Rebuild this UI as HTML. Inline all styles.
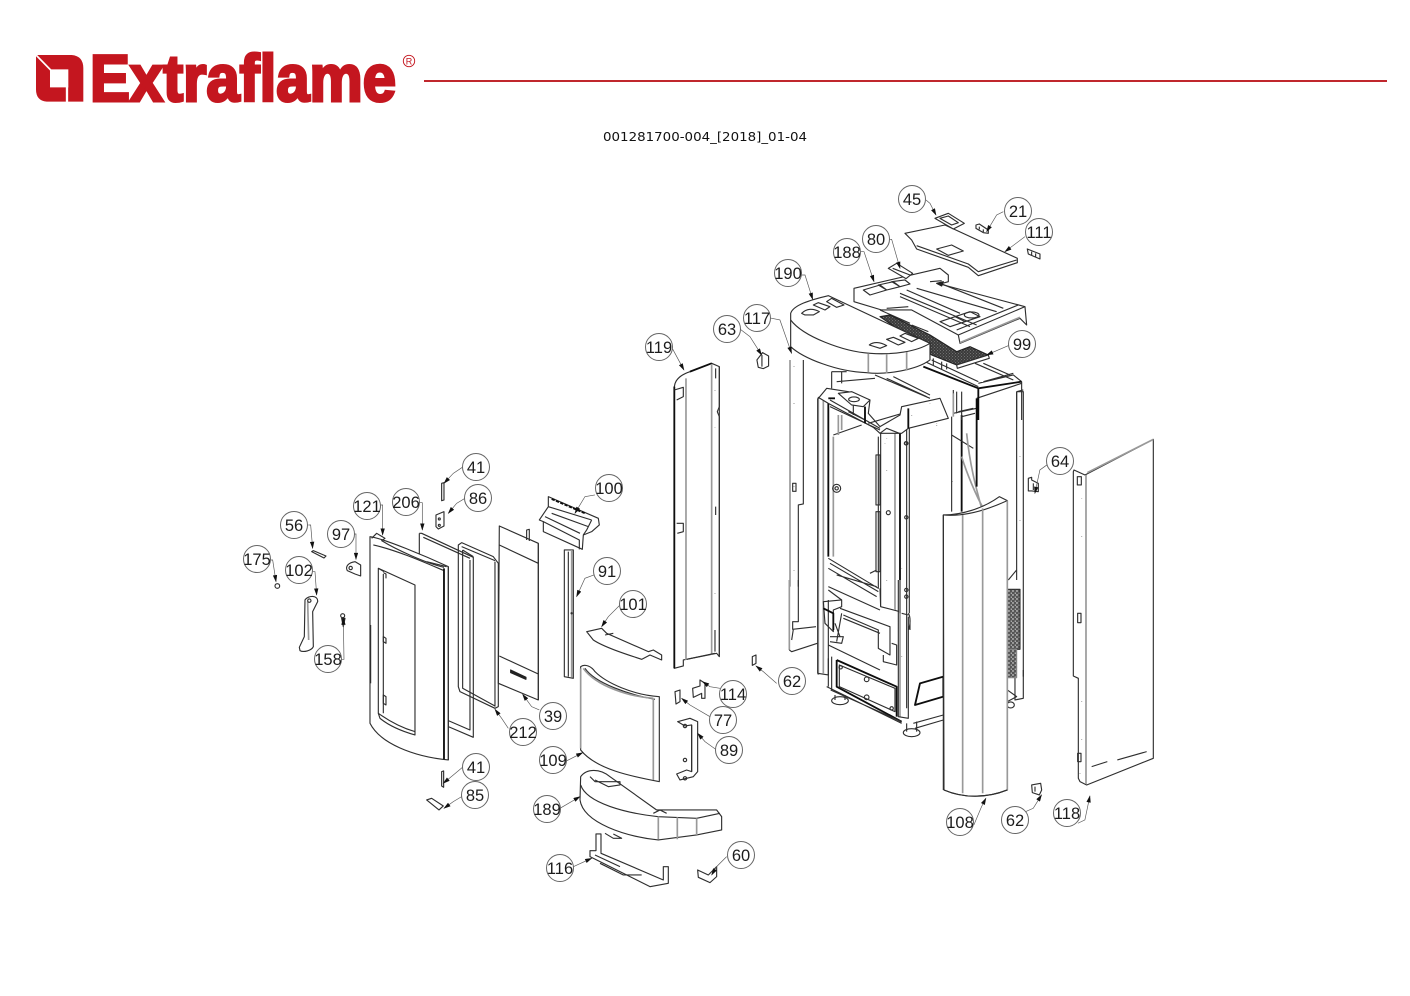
<!DOCTYPE html>
<html><head><meta charset="utf-8"><title>Extraflame 001281700-004</title>
<style>
html,body{margin:0;padding:0;background:#fff}
svg{display:block}
.p path,.p ellipse,.p circle,.p rect{fill:none;stroke:#2e2e2e;stroke-width:3.4;stroke-linejoin:round}
.p .w{fill:#fff}
.p .g{stroke:#999;stroke-width:5}
.p .k{stroke:#0d0d0d;stroke-width:5.5}
.p .d{fill:#222;stroke:#222}
.l path{fill:none;stroke:#555;stroke-width:2;marker-end:url(#a)}
.c circle{fill:#fff;stroke:#666;stroke-width:1}
.c text{font:16.5px "Liberation Sans",sans-serif;fill:#1c1c1c;text-anchor:middle}
</style></head>
<body>
<svg width="1410" height="996" viewBox="0 0 1410 996" xmlns="http://www.w3.org/2000/svg">
<defs>
<marker id="a" viewBox="0 0 10 6" refX="9" refY="3" orient="auto" markerUnits="userSpaceOnUse" markerWidth="28" markerHeight="13"><path d="M0,0L10,3L0,6z" fill="#111" stroke="none"/></marker>
<pattern id="m" width="9" height="9" patternUnits="userSpaceOnUse"><rect width="9" height="9" fill="#3a3a3a"/><circle cx="2" cy="2" r="1.3" fill="#aaa"/><circle cx="6.5" cy="6" r="1.3" fill="#999"/></pattern>
<pattern id="b" width="12" height="12" patternUnits="userSpaceOnUse"><rect width="12" height="12" fill="#555"/><rect x="2" y="2" width="4" height="3" fill="#ddd"/><rect x="7" y="7" width="4" height="4" fill="#eee"/></pattern>
</defs>
<rect width="1410" height="996" fill="#fff"/>

<!-- logo -->
<g transform="translate(0,30) scale(.3333)">
<path fill="#c4161f" d="M108,75H215Q250,78 250,115V215H140Q108,212 108,178Z"/>
<path fill="#fff" d="M150,118H205V172H150Z"/>
<path stroke="#fff" stroke-width="5" fill="none" d="M108,75L152,120"/>
<path stroke="#fff" stroke-width="7" fill="none" d="M201,170V216"/>
</g>
<text x="90" y="101" font-family="Liberation Sans,sans-serif" font-weight="700" font-size="66" fill="#c4161f" stroke="#c4161f" stroke-width="3" textLength="306" lengthAdjust="spacingAndGlyphs">Extraflame</text>
<circle cx="409" cy="61" r="5.7" fill="none" stroke="#c4161f" stroke-width=".9"/>
<text x="409" y="64.5" font-family="Liberation Sans,sans-serif" font-size="9" fill="#c4161f" text-anchor="middle">R</text>
<rect x="424" y="80" width="963" height="2" fill="#c0272d"/>
<text x="603" y="141" font-family="DejaVu Sans,sans-serif" font-size="12.5" fill="#111" textLength="204" lengthAdjust="spacingAndGlyphs">001281700-004_[2018]_01-04</text>

<!-- stove body mid (z3) -->
<g class="p" transform="translate(770,380) scale(.3333)">
<path class="g" d="M60,-60V620"/><path d="M100,-60V372L85,375V620"/>
<path d="M72,70v1M72,320v1M72,570v1" stroke-width="6"/>
<rect x="68" y="310" width="10" height="24"/>
<path class="g" d="M145,55V885M160,55V880" />
<path d="M143,55V880L175,885V660"/>
<path class="k" d="M175,60V530"/><path class="g" d="M190,170V530"/>
<path d="M175,535L325,625V170M180,550L325,635M175,565L320,650M200,585L320,620M300,580L320,570M330,625L332,680M175,620L330,690"/>
<path d="M318,225H330V375H318ZM318,395H330V575H318Z" stroke-width="5"/>
<circle cx="200" cy="325" r="12" stroke-width="7"/><circle cx="200" cy="325" r="5"/>
<path class="w" d="M332,160L390,145V695L332,680Z"/><path class="g" d="M375,150V690"/><path class="k" d="M390,145V700"/>
<circle cx="355" cy="398" r="6"/>
<path d="M410,130V985M418,145V700"/><circle cx="409" cy="190" r="5"/><circle cx="409" cy="412" r="5"/><circle cx="409" cy="630" r="5"/><circle cx="409" cy="650" r="5"/>
<path d="M350,175v1M350,270v1M350,600v1M395,565v1M395,830v1M547,305v1M500,130v1M430,140v1" stroke-width="6"/>
<path class="k" d="M575,105V395"/><path d="M545,110V395M545,165L610,205"/>
<path d="M550,30V100L620,85M565,95L610,85"/>
<path class="g" d="M575,230C590,280 620,350 640,385M590,160C600,260 620,330 635,385"/>
<path class="k" d="M620,55V320"/><path d="M620,55L755,10"/>
<path d="M740,35H760V955L735,960V640M740,35V600"/>
<path d="M750,230v1M750,420v1" stroke-width="6"/>
<path d="M715,600L740,570"/>
<rect x="712" y="628" width="38" height="180" style="fill:url(#b)"/>
<rect x="712" y="808" width="28" height="85" style="fill:url(#b);stroke:#888"/>
<path d="M712,930L740,950L712,965M760,870V890" />
<ellipse cx="722" cy="975" rx="11" ry="9"/>
</g>

<!-- stove lower (z4b) -->
<g class="p" transform="translate(780,580) scale(.3333)">
<path class="g" d="M28,0V210"/><path d="M55,0V125L38,125V148L108,140M40,148L35,180M28,210L35,215L112,190"/>
<path d="M130,65L185,60V80L160,90V155L135,130Z"/>
<path class="k" d="M130,85L160,100V150"/>
<path d="M145,30L185,60M180,85L330,140V225L295,205V150L190,105M190,115L300,160M310,225V245L350,255V195L335,190M185,100L170,185M150,170L190,170L185,190L150,185M165,130L180,170"/>
<path d="M145,195L300,270M145,235V320M155,230V330"/>
<path class="k" d="M170,240V320L365,425M170,240L350,320V410"/>
<path d="M178,255L345,325V395L178,320Z"/><circle cx="260" cy="298" r="7"/><circle cx="260" cy="352" r="7"/>
<circle cx="182" cy="262" r="5"/><circle cx="335" cy="385" r="5"/>
<path d="M140,320L365,430M152,330L365,425"/>
<path class="g" d="M360,0V410"/><path d="M355,0V410L385,415V110M365,100L385,105M390,120V150M385,100C392,110 392,135 385,150"/>
<ellipse cx="180" cy="362" rx="25" ry="12"/><path d="M165,345V360M195,345V360"/>
<ellipse cx="395" cy="458" rx="25" ry="12"/><path d="M380,430V455M410,425V455"/>
<path d="M400,430L490,405M405,445L490,420"/>
<path class="k" d="M420,310L490,290V350L405,375Z"/>
</g>

<!-- stove upper (z3b) -->
<g class="p" transform="translate(780,340) scale(.3333)">
<path d="M155,95V145M185,95V130M155,95H200M285,105L450,175M340,110L450,165M320,115L440,170M170,125L285,115"/>
<path class="w" d="M115,175L140,145L205,155L270,180L265,220L300,260L360,225L365,200L480,175L505,235L385,265L365,280L300,280L280,262L145,190L115,172Z"/>
<path class="w" d="M175,160L215,155L270,180L250,200L215,195Z"/><ellipse cx="222" cy="178" rx="16" ry="7"/>
<path d="M220,195V225M255,200V250M150,200L300,270M205,215L265,245M265,250L360,222M160,285L245,255M150,180L300,265"/>
<path class="k" d="M255,200V250M385,205V265"/>
<path class="k" d="M145,175H165"/><path class="g" d="M175,225V285M185,225V270"/>
<path d="M300,280L320,265L358,280"/>
<path d="M395,225v1M450,190v1M470,255v1M315,310v1M42,190v1M42,78v1" stroke-width="6"/>
<circle cx="378" cy="310" r="5"/>
</g>

<!-- top assemblies -->
<g class="p" transform="translate(850,260) scale(.3333)">
<path d="M245,300L385,365M225,305L385,380M250,295V318M275,305V328M290,310V328M385,370L490,345L515,365M375,310L490,360M400,310L480,345M400,365L490,340"/>
<path class="k" d="M385,385V480M220,320L385,385L515,365"/>
<path d="M515,365V480M500,395V480M500,395L520,390M320,395V460M335,395V480M335,470L375,460"/>
<path class="g" d="M310,400V470"/>
<!-- 188 -->
<path class="w" d="M12,85L270,25L295,45V65L270,72L525,140L530,195L510,175L330,250L325,225L185,150L95,150L12,125Z"/>
<path d="M525,140L325,225M505,135L320,210"/>
<path class="g" d="M510,172L330,248" stroke-width="3"/>
<path d="M150,100L380,195M170,90L330,160M150,110L360,200M200,85L440,155M270,70L460,145M240,65L275,62"/>
<path d="M40,90L90,75L110,90L60,105ZM85,75L130,65L150,80L110,90ZM125,65L165,60L180,72L150,80ZM270,185L315,170L345,185L300,200ZM315,170L360,155L390,170L345,185Z"/>
<ellipse cx="365" cy="165" rx="22" ry="9"/>
<path d="M90,150L180,190M110,145L175,140"/>
<path class="d" d="M260,70L280,65L275,78Z"/>
<path d="M90,170L120,165L240,225L320,275L360,260L415,285L320,315L245,285L170,225Z" style="fill:url(#m);stroke:#222"/>
<path class="w" d="M320,315L415,285L418,295L322,325Z"/>
<path d="M185,195L235,215"/>
</g>
<g class="p" transform="translate(770,180) scale(.3333)">
<!-- 190 -->
<path class="w" d="M62,400C70,375 120,360 175,347L480,490V540C440,570 350,585 290,578C200,575 100,535 62,500Z"/>
<path d="M62,420C100,470 220,515 300,520C370,525 440,515 480,490"/>
<path class="g" d="M295,520V578M350,522V580M410,516V572" stroke-width="3.5"/>
<path d="M95,400C110,385 130,385 148,395L130,405H105ZM130,375L165,390L180,380L145,368ZM170,365L200,382L222,375L185,355Z"/>
<path d="M298,495C310,485 330,485 350,497L330,505ZM350,478L385,495L405,487L370,472ZM390,468L425,485L445,475L405,460Z"/>
<!-- 111 -->
<path class="w" d="M405,160L525,135L742,235V248L625,287L595,262L440,207L425,180Z"/>
<path d="M440,197L595,252L625,275L740,240"/>
<path d="M500,207L545,195L580,213L535,226Z"/>
<path class="w" d="M495,115L535,100L583,130L550,147Z"/><path d="M510,115L535,108L565,128L545,135Z"/>
<path d="M618,135L628,132L655,150V160L640,158L618,145ZM628,140v8M640,148v8"/>
<path d="M772,207L810,222V237L775,222ZM785,215v10M797,220v10"/>
<path class="w" d="M355,265L380,250L428,280L408,296Z"/><path d="M368,265L420,285"/>
</g>

<!-- body part 108 -->
<g class="p" transform="translate(770,380) scale(.3333)">
<path class="w" d="M520,405C575,405 640,385 688,350L712,362V1230C650,1255 580,1255 522,1230Z"/>
<path d="M520,405C575,410 640,395 712,362" stroke-width="5.5"/>
<path class="g" d="M578,405V1240M638,385V1240M712,362V1230"/>
<path d="M520,405V1230M522,1230C580,1255 650,1255 712,1230" stroke-width="4"/>
</g>

<!-- left door group (z4) -->
<g class="p" transform="translate(240,450) scale(.3333)">
<path class="w" d="M778,228L895,280V750L775,700Z"/>
<path d="M895,280V750" stroke-width="6"/>
<path d="M778,285L895,340M778,618L895,672"/>
<path class="d" d="M812,660L858,682V688L812,668Z"/>
<path d="M860,270V240L868,238V273"/>
<path d="M655,285L665,278L760,320L775,340V770L765,775L660,725L655,710Z"/>
<path d="M668,300L700,320M668,300V715L765,768M665,290L765,332"/>
<path d="M765,335V770" stroke-width="5"/>
<path d="M538,250V335M538,250L545,250L700,322V862L625,830M690,330V840L625,812"/>
<path d="M550,262L690,325" />
<!-- door -->
<path class="w" d="M390,260C430,265 560,320 625,350V930C520,920 420,880 390,820Z"/>
<path d="M395,265L410,250L435,265L425,272C470,300 560,340 612,352"/>
<path d="M400,285C470,300 560,340 612,362"/>
<path d="M560,335L620,350"/>
<path class="k" d="M612,355V928"/>
<path d="M625,350V930"/>
<path d="M415,355L525,405V845C490,835 450,815 415,790Z"/>
<path d="M430,372V790M415,355L432,365"/>
<path d="M430,560L438,565V580L430,575ZM430,735L438,740V765L430,760ZM430,368L438,372V385"/>
<path d="M415,790L420,805C450,830 490,845 525,855V845"/>
<path d="M392,525V700" stroke-width="2.5"/>
<path d="M605,100L612,98V150L605,152Z"/>
<path d="M588,195L612,185V228L595,237L588,230Z"/><circle cx="598" cy="207" r="3"/><circle cx="598" cy="226" r="3"/>
<path d="M215,305L220,302L258,318L252,324Z"/>
<path d="M345,335L362,345V378L345,372L322,362C315,350 325,338 345,335Z"/><circle cx="332" cy="354" r="5"/>
<circle cx="112" cy="408" r="7" stroke-width="6"/>
<path d="M195,450C205,435 235,435 233,455L218,485L220,590C215,602 190,608 180,602L178,592L193,560Z"/><path class="g" d="M203,455L206,570"/><circle cx="208" cy="452" r="5"/>
<circle cx="308" cy="497" r="6"/><path class="d" d="M305,505H315L310,530Z"/>
<path d="M605,965L611,963V1012L605,1008Z"/>
<path d="M560,1050L575,1045L610,1068L597,1080Z"/>
</g>
<g class="l" transform="translate(240,450) scale(.3333)">
<path d="M670,50L640,70L612,100"/><path d="M675,145L650,160L625,190"/>
<path d="M418,165H428V255"/><path d="M538,158H547V240"/>
<path d="M205,225H212L218,295"/><path d="M340,252H348V328"/>
<path d="M92,330H98L108,395"/><path d="M215,365H225L230,435"/>
<path d="M305,628H312L310,505"/><path d="M805,835L785,805L765,778"/>
<path d="M898,780L875,770L848,733"/><path d="M670,950L640,975L610,1000"/>
<path d="M665,1040L640,1055L612,1075"/>
</g>

<!-- 100, 91, 119 (z1) -->
<g class="p" transform="translate(520,350) scale(.3333)">
<path class="w" d="M85,440L235,505L238,525L215,545L190,555L187,598L70,545V515L58,510L85,470Z"/>
<path d="M85,470L215,510M70,515L178,570V598M95,490L205,530M75,500L180,550M215,510L200,540L190,555"/>
<path class="k" d="M95,447L195,490" stroke-dasharray="10 4" stroke-width="4"/>
<path class="w" d="M133,600V980L160,985V600Z"/><path d="M145,605V980"/><path class="g" d="M155,600V982"/>
<circle cx="155" cy="790" r="2"/>
<!-- 119 -->
<path class="w" d="M463,110C465,90 480,75 510,65L575,40L598,50V170L592,185L598,200V920L590,910L500,928L490,930V948L463,955Z"/>
<path class="k" d="M463,110V955M510,65L575,40"/>
<path class="g" d="M498,85V930M575,42V915"/>
<path d="M598,50V920" stroke-width="4"/>
<path d="M463,120L490,112V140L470,150M470,520H490V545L472,550M500,928L585,910"/>
<path d="M585,120v1M585,232v1M585,730v1" stroke-width="6"/>
<path d="M587,55V85M587,470V495M585,840V905" stroke-width="4"/>
</g>

<!-- centre group (z5) -->
<g class="p" transform="translate(520,600) scale(.3333)">
<path class="w" d="M200,95L245,85L260,100L385,155L400,150L425,165V180L390,165L365,178C310,160 250,140 220,120Z"/>
<path d="M255,105L280,100"/>
<!-- 189 -->
<path class="w" d="M182,530C200,505 240,505 270,530L410,630L590,630L605,650V690L530,705L415,720C320,710 190,670 180,600Z"/>
<path d="M182,555C200,610 320,640 415,650L530,655L600,640"/>
<path class="g" d="M415,650V718M472,652V718M530,655V705" stroke-width="3.5"/>
<path d="M210,530L225,545H300V555L265,560L225,540M400,640L420,630L440,640"/>
<path d="M255,700L280,715H305L280,702"/>
<!-- 109 -->
<path class="w" d="M182,200C195,190 215,200 225,215C260,250 340,285 418,290V545C340,530 230,510 182,450Z"/>
<path d="M195,205C225,250 330,285 405,298"/>
<path class="g" d="M190,205C230,260 330,290 400,295" stroke="#555"/>
<path class="g" d="M400,295V540M182,205V445"/>
<!-- 116 -->
<path class="w" d="M228,702H243V760L430,840V800H445V850L390,860L210,770V752H228Z"/>
<path d="M225,765L300,800M240,790L310,825H365"/>
<!-- 60 -->
<path d="M533,810L565,825L590,800V830L570,848L535,832Z"/>
<!-- 89 -->
<path class="w" d="M473,365L510,355L533,365V515L520,530L480,540L470,522L500,510L515,515V375L495,378Z"/>
<path d="M515,375V515"/><circle cx="495" cy="378" r="5"/><circle cx="495" cy="480" r="5"/><circle cx="495" cy="535" r="5"/>
<!-- 77 -->
<path d="M465,275L480,270V305L468,312Z"/>
<!-- 114 -->
<path d="M518,265L540,258V240L555,250V295L545,295V280L520,292Z"/>
<!-- 62 -->
<path d="M697,170L708,165V190L697,196Z" stroke-width="5"/>
</g>
<g class="l" transform="translate(520,600) scale(.3333)">
<path d="M300,15L265,50L245,80"/><path d="M600,265L570,260L548,245"/>
<path d="M570,350L510,315L485,295"/><path d="M590,450L555,425L533,400"/>
<path d="M135,485L188,458"/><path d="M120,625L180,590"/><path d="M160,800L215,775"/>
<path d="M620,770L590,800L575,825"/><path d="M770,250L730,215L708,198"/>
</g>

<!-- right panel 118, 64, 62 (z5b) -->
<g class="p" transform="translate(1000,430) scale(.3333)">
<path class="w" d="M220,125L222,120L255,135L460,28V985L260,1065L240,1055L235,1045V745L220,738Z"/>
<path class="g" d="M258,135V1062M262,128L460,28"/>
<path d="M232,140H244V165H232Z"/><path d="M233,550H243V578H233ZM233,970H243V995H233Z"/>
<path d="M245,205v1M245,318v1M245,815v1M245,928v1M240,1030v1" stroke-width="6"/>
<path d="M352,990L440,965" stroke-width="5"/><path d="M275,1010L322,995" stroke-width="4"/>
<path d="M85,145L95,142V150L115,160V185L95,183L85,183Z"/><path d="M100,160V180"/>
<path d="M95,1065L122,1060L125,1080L118,1095L97,1088Z"/><path d="M105,1070V1085"/>
</g>
<g class="p" transform="scale(.3333)">
<path d="M2271,1080L2288,1058L2306,1068V1098L2290,1106L2275,1102Z"/><path d="M2286,1065V1100"/>
</g>
<g class="l" transform="scale(.3333)">
<path d="M3141,1395L3120,1410L3105,1480"/>
<path d="M3075,2436L3100,2425L3125,2385"/>
<path d="M2922,2475L2945,2420L2958,2395"/>
<path d="M3234,2470L3255,2460L3270,2388"/>
<path d="M1785,1485L1755,1490L1725,1540"/>
<path d="M1782,1725L1755,1735L1730,1790"/>
<path d="M2018,1047L2052,1110"/>
<path d="M2310,954L2340,960L2375,1060"/>
<path d="M2220,987L2250,1010L2285,1065"/>
</g>
<g class="l" transform="translate(770,180) scale(.3333)">
<path d="M468,60L480,70L498,105"/><path d="M700,95L680,105L650,155"/>
<path d="M765,170L705,215"/><path d="M355,178H365L390,265"/>
<path d="M272,215H282L312,305"/><path d="M90,285H105L128,358"/>
<path d="M720,495L650,525"/>
</g>

<!-- callouts -->
<g class="c">
<circle cx="912" cy="199" r="13.5"/><text x="912" y="205">45</text>
<circle cx="1018" cy="211" r="13.5"/><text x="1018" y="217">21</text>
<circle cx="1039" cy="232" r="13.5"/><text x="1039" y="238">111</text>
<circle cx="876" cy="239" r="13.5"/><text x="876" y="245">80</text>
<circle cx="847" cy="252" r="13.5"/><text x="847" y="258">188</text>
<circle cx="788" cy="273" r="13.5"/><text x="788" y="279">190</text>
<circle cx="727" cy="329" r="13.5"/><text x="727" y="335">63</text>
<circle cx="757" cy="318" r="13.5"/><text x="757" y="324">117</text>
<circle cx="1022" cy="344" r="13.5"/><text x="1022" y="350">99</text>
<circle cx="659" cy="347" r="13.5"/><text x="659" y="353">119</text>
<circle cx="1060" cy="461" r="13.5"/><text x="1060" y="467">64</text>
<circle cx="476" cy="467" r="13.5"/><text x="476" y="473">41</text>
<circle cx="478" cy="498" r="13.5"/><text x="478" y="504">86</text>
<circle cx="609" cy="488" r="13.5"/><text x="609" y="494">100</text>
<circle cx="367" cy="506" r="13.5"/><text x="367" y="512">121</text>
<circle cx="406" cy="502" r="13.5"/><text x="406" y="508">206</text>
<circle cx="294" cy="525" r="13.5"/><text x="294" y="531">56</text>
<circle cx="341" cy="534" r="13.5"/><text x="341" y="540">97</text>
<circle cx="257" cy="559" r="13.5"/><text x="257" y="565">175</text>
<circle cx="299" cy="570" r="13.5"/><text x="299" y="576">102</text>
<circle cx="607" cy="571" r="13.5"/><text x="607" y="577">91</text>
<circle cx="633" cy="604" r="13.5"/><text x="633" y="610">101</text>
<circle cx="328" cy="659" r="13.5"/><text x="328" y="665">158</text>
<circle cx="792" cy="681" r="13.5"/><text x="792" y="687">62</text>
<circle cx="733" cy="694" r="13.5"/><text x="733" y="700">114</text>
<circle cx="723" cy="720" r="13.5"/><text x="723" y="726">77</text>
<circle cx="553" cy="716" r="13.5"/><text x="553" y="722">39</text>
<circle cx="523" cy="732" r="13.5"/><text x="523" y="738">212</text>
<circle cx="729" cy="750" r="13.5"/><text x="729" y="756">89</text>
<circle cx="553" cy="760" r="13.5"/><text x="553" y="766">109</text>
<circle cx="476" cy="767" r="13.5"/><text x="476" y="773">41</text>
<circle cx="475" cy="795" r="13.5"/><text x="475" y="801">85</text>
<circle cx="547" cy="809" r="13.5"/><text x="547" y="815">189</text>
<circle cx="1015" cy="820" r="13.5"/><text x="1015" y="826">62</text>
<circle cx="960" cy="822" r="13.5"/><text x="960" y="828">108</text>
<circle cx="1067" cy="813" r="13.5"/><text x="1067" y="819">118</text>
<circle cx="741" cy="855" r="13.5"/><text x="741" y="861">60</text>
<circle cx="560" cy="868" r="13.5"/><text x="560" y="874">116</text>
</g>
</svg>
</body></html>
